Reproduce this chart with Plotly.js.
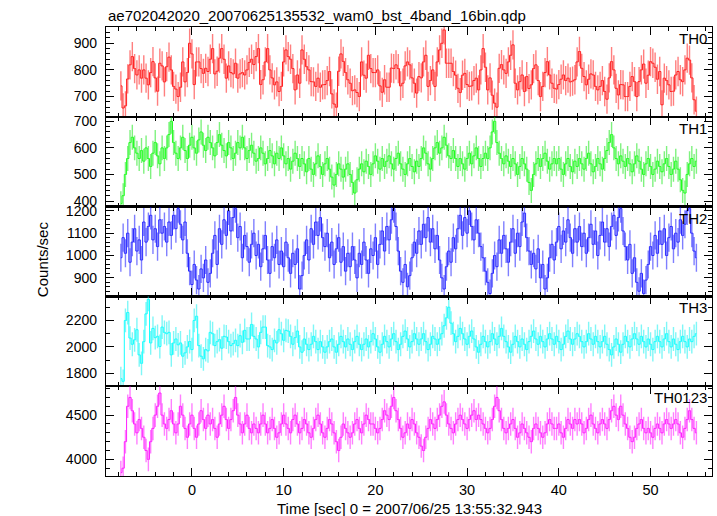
<!DOCTYPE html>
<html><head><meta charset="utf-8">
<script src="https://cdn.plot.ly/plotly-3.0.1.min.js"></script>
<style>html,body{margin:0;padding:0;background:#fff}</style>
</head><body><div id="chart" style="width:717px;height:516px"></div>
<script>
// Time bins [sec] (bin centres, 0.25 s bins)
const time = [-7.75,-7.5,-7.25,-7,-6.75,-6.5,-6.25,-6,-5.75,-5.5,-5.25,-5,-4.75,-4.5,-4.25,-4,-3.75,-3.5,-3.25,-3,-2.75,-2.5,-2.25,-2,-1.75,-1.5,-1.25,-1,-0.75,-0.5,-0.25,0,
0.25,0.5,0.75,1,1.25,1.5,1.75,2,2.25,2.5,2.75,3,3.25,3.5,3.75,4,4.25,4.5,4.75,5,5.25,5.5,5.75,6,6.25,6.5,6.75,7,7.25,7.5,7.75,8,8.25,8.5,8.75,9,9.25,9.5,9.75,10,
10.25,10.5,10.75,11,11.25,11.5,11.75,12,12.25,12.5,12.75,13,13.25,13.5,13.75,14,14.25,14.5,14.75,15,15.25,15.5,15.75,16,16.25,16.5,16.75,17,17.25,17.5,17.75,18,18.25,18.5,18.75,19,19.25,19.5,19.75,20,
20.25,20.5,20.75,21,21.25,21.5,21.75,22,22.25,22.5,22.75,23,23.25,23.5,23.75,24,24.25,24.5,24.75,25,25.25,25.5,25.75,26,26.25,26.5,26.75,27,27.25,27.5,27.75,28,28.25,28.5,28.75,29,29.25,29.5,29.75,30,
30.25,30.5,30.75,31,31.25,31.5,31.75,32,32.25,32.5,32.75,33,33.25,33.5,33.75,34,34.25,34.5,34.75,35,35.25,35.5,35.75,36,36.25,36.5,36.75,37,37.25,37.5,37.75,38,38.25,38.5,38.75,39,39.25,39.5,39.75,40,
40.25,40.5,40.75,41,41.25,41.5,41.75,42,42.25,42.5,42.75,43,43.25,43.5,43.75,44,44.25,44.5,44.75,45,45.25,45.5,45.75,46,46.25,46.5,46.75,47,47.25,47.5,47.75,48,48.25,48.5,48.75,49,49.25,49.5,49.75,50,
50.25,50.5,50.75,51,51.25,51.5,51.75,52,52.25,52.5,52.75,53,53.25,53.5,53.75,54,54.25,54.5,54.75,55];

// Count rates [counts/sec]
const th0 = [740,657,665,766,819,850,805,781,800,769,
800,769,744,790,831,770,720,825,815,755,
812,848,800,738,728,700,735,830,755,790,
900,860,745,830,830,805,787,806,794,840,
880,785,795,844,880,840,769,815,790,785,
825,769,785,790,781,800,828,840,820,850,
880,745,763,830,880,800,770,744,755,719,
738,830,875,850,840,805,725,781,750,875,
840,812,800,756,755,738,769,735,744,745,
760,794,710,672,660,795,860,832,790,763,
750,722,725,715,700,830,780,769,855,805,
790,790,800,740,716,763,735,735,807,805,
819,805,740,750,815,830,819,770,750,713,
775,770,830,855,738,760,800,738,830,875,
900,950,825,825,825,794,780,731,715,780,
787,745,738,740,760,769,725,800,880,810,
725,770,705,675,660,806,820,800,787,830,
855,894,750,725,756,781,719,775,730,744,
805,819,760,700,738,790,831,781,750,731,
728,745,765,781,760,769,755,758,763,830,
869,806,775,744,765,785,781,738,725,738,
760,719,690,770,831,800,731,706,745,744,
700,700,738,775,756,700,756,800,822,750,
780,831,825,810,765,794,669,769,760,744,
719,720,781,794,763,756,800,844,837,770,688,645];

const th1 = [390,420,500,560,620,640,600,580,560,590,
550,600,560,530,580,620,570,540,600,560,
600,650,700,620,580,560,600,640,590,560,
610,640,600,580,630,660,610,590,640,620,
600,570,620,650,610,590,570,620,600,560,
580,620,600,640,600,560,590,610,580,550,
560,600,580,540,560,590,570,540,580,560,
600,570,540,560,520,550,580,560,530,560,
540,510,560,520,500,540,570,530,500,540,
560,520,490,460,500,540,520,490,520,540,
500,470,430,480,520,540,510,550,530,500,
540,570,550,520,560,530,550,570,540,520,
560,580,540,520,500,540,560,530,510,550,
530,560,600,580,540,520,560,600,620,580,
600,640,610,570,560,590,560,530,560,540,
520,560,580,540,570,600,560,530,560,580,
560,600,660,700,620,580,560,540,570,550,
530,560,540,500,530,560,540,520,470,440,
500,540,560,530,560,580,550,520,540,560,
540,560,520,500,540,560,530,510,550,530,
560,540,520,560,580,540,510,530,560,540,
520,560,590,620,650,600,560,540,570,550,
530,560,540,510,540,570,550,520,500,540,
560,530,500,520,550,530,510,540,560,530,
500,520,550,520,480,440,430,500,540,560,530,550];

const th2 = [990,1080,1010,1100,970,1060,1120,1020,1070,980,
1150,1060,1130,1180,1070,1120,1040,1160,1100,1130,
1060,1150,1090,1180,1120,1210,1140,1070,1150,1010,
930,870,960,890,850,940,900,980,880,920,
1010,1090,960,1120,1050,1160,1090,1200,1110,1170,
1210,1080,1130,990,1090,1040,970,1050,1100,1000,
1050,950,1030,1090,980,920,1040,990,1070,960,
1020,950,1060,990,920,1010,960,1030,850,910,
1000,1070,980,1120,1050,1150,1090,1170,1080,1040,
1100,990,1060,960,1030,1080,970,1040,930,1010,
950,1040,980,900,1010,960,1060,980,920,1030,
1000,1080,960,1050,1110,1020,1130,1070,1160,1210,
1130,1020,930,880,960,860,910,990,1060,1010,
1110,1050,1140,1080,1170,1060,1120,1030,1090,980,
900,850,950,1020,970,1080,1030,1120,1180,1090,
1170,1100,1200,1130,1070,1160,1100,1040,990,930,
880,830,920,1000,950,1070,1010,1090,1030,970,
1060,1120,1010,1100,1040,1150,1190,1080,1020,960,
1010,940,1030,900,960,850,900,990,1050,980,
1060,1130,1030,1110,1060,1160,1080,1010,1120,1060,
1130,1040,1100,1010,1080,1140,1050,1110,1000,1090,
1150,1060,1120,1040,1130,1180,1090,1170,1210,1110,
1040,980,1050,920,990,880,840,920,830,890,
960,1040,1000,1090,1010,1110,1050,1120,1000,1080,
1130,1030,1100,1060,1160,1090,1140,1200,1210,1100,1020,990];

const th3 = [1760,1740,2200,2260,2067,2020,2054,2130,1940,1876,
2040,2250,2359,2030,2140,2070,2080,2003,2150,2110,
2100,2110,1940,2030,2060,2016,2030,1930,1955,2000,
2041,1980,2200,2232,2010,1930,1910,1980,1970,2110,
2100,2010,2040,2055,1990,2080,2075,2040,2010,2025,
2050,2010,2085,2035,2125,2060,2060,2170,2080,2060,
2000,2110,2150,2150,2010,2000,1980,2050,2030,2130,
2100,2050,2125,2120,2080,2020,2070,2120,2000,1960,
2060,2020,1980,2020,2080,2040,1980,2040,2000,1960,
2000,2040,2060,2000,1960,2020,2080,2040,2000,2060,
2020,1980,2040,2080,2020,1980,2020,2060,2000,2040,
2100,2060,2000,1960,2020,2080,2040,2000,2060,2100,
2040,1980,2020,2080,2120,2060,2000,2040,2100,2060,
2020,2060,2100,2040,1980,2020,2080,2060,2020,2060,
2100,2160,2220,2300,2180,2100,2040,2080,2140,2100,
2060,2020,2080,2120,2060,2000,1960,2020,2080,2040,
2000,2040,2100,2060,2020,2080,2140,2080,2040,2000,
1960,2020,2080,2040,2000,2060,2020,1980,2040,2080,
2120,2060,2020,2080,2040,2000,2060,2100,2060,2020,
2080,2040,1980,2020,2080,2120,2060,2020,2060,2100,
2080,2040,2000,2040,2100,2060,2020,2080,2040,2000,
2040,2080,2020,1980,1940,2000,2060,2020,1960,2020,
2080,2040,2000,2060,2100,2060,2020,2080,2040,2000,
2060,2020,1980,2040,2080,2040,2000,2060,2100,2040,
2000,2060,2020,1980,2040,2080,2040,2000,2060,2040,2080,2100];

const th0123 = [3850,3900,4200,4600,4700,4550,4400,4300,4450,4350,
4250,4100,4000,4200,4350,4500,4600,4750,4500,4400,
4350,4450,4550,4400,4300,4400,4600,4500,4350,4250,
4400,4500,4350,4250,4400,4550,4450,4350,4500,4400,
4450,4350,4250,4400,4500,4600,4450,4350,4450,4550,
4700,4500,4400,4300,4400,4500,4350,4300,4400,4350,
4300,4400,4500,4400,4300,4350,4450,4350,4250,4300,
4400,4500,4400,4350,4300,4450,4500,4400,4300,4350,
4450,4400,4300,4250,4350,4450,4500,4400,4300,4250,
4350,4450,4400,4300,4200,4100,4250,4400,4350,4300,
4250,4300,4400,4450,4350,4300,4400,4500,4450,4400,
4400,4350,4300,4350,4450,4550,4500,4450,4600,4700,
4550,4450,4350,4250,4300,4400,4350,4450,4400,4300,
4250,4150,4100,4250,4350,4450,4400,4350,4450,4500,
4600,4650,4500,4400,4350,4300,4400,4450,4500,4450,
4400,4350,4450,4500,4550,4450,4500,4450,4400,4350,
4300,4350,4450,4600,4700,4550,4450,4350,4300,4350,
4400,4450,4350,4250,4300,4400,4350,4300,4250,4200,
4350,4400,4350,4300,4250,4300,4400,4450,4400,4350,
4350,4400,4300,4250,4350,4450,4400,4350,4450,4400,
4450,4400,4300,4350,4450,4500,4400,4350,4300,4400,
4450,4400,4350,4450,4550,4600,4500,4450,4600,4500,
4400,4350,4250,4200,4250,4350,4400,4450,4350,4300,
4350,4300,4250,4350,4400,4350,4300,4400,4450,4400,
4350,4400,4450,4400,4300,4250,4350,4450,4550,4450,4350,4300];

// Typical 1-sigma error per band [counts/sec]
const bandErrors = [55, 47, 63, 90, 133];
const bandNames = ['TH0', 'TH1', 'TH2', 'TH3', 'TH0123'];
const bandSeries = [th0, th1, th2, th3, th0123];

// Style / layout settings
const lineColors = ['rgb(255,30,30)', 'rgb(30,255,30)', 'rgb(40,40,255)', 'rgb(20,255,255)', 'rgb(255,30,255)'];
const errColors = ['rgba(255,0,0,0.5)', 'rgba(0,230,0,0.5)', 'rgba(0,0,255,0.5)', 'rgba(0,240,240,0.5)', 'rgba(255,0,255,0.5)'];
const yRanges = [[624, 961], [379, 717], [817, 1219], [1703, 2382], [3812, 4827]];
const yDticks = [100, 100, 100, 200, 500];
const yMinor = [20, 20, 20, 100, 100];
const xRange = [-9.37, 56.7];
const FONT = 'Liberation Sans, Arial, Helvetica, sans-serif';

const n = bandSeries.length;
const traces = [];
const layout = {
  width: 717, height: 516,
  margin: {l: 106, r: 5, t: 27, b: 40, pad: 0},
  paper_bgcolor: '#fff', plot_bgcolor: '#fff',
  showlegend: false,
  font: {family: FONT, size: 14.5, color: '#000'},
  annotations: [],
};

for (let k = 0; k < n; k++) {
  const sfx = k === 0 ? '' : String(k + 1);
  traces.push({
    type: 'scatter', mode: 'lines',
    x: time, y: bandSeries[k],
    xaxis: 'x' + sfx, yaxis: 'y' + sfx,
    line: {color: lineColors[k], width: 1, shape: 'hvh'},
    error_y: {type: 'constant', value: bandErrors[k], color: errColors[k], thickness: 1.4, width: 0},
    hoverinfo: 'skip'
  });
  const top = 1 - k / n, bot = 1 - (k + 1) / n;
  layout['xaxis' + sfx] = {
    domain: [0, 1], anchor: 'y' + sfx, range: xRange,
    showgrid: false, zeroline: false,
    showline: true, linecolor: '#000', linewidth: 1.2, mirror: 'ticks',
    ticks: 'inside', ticklen: 8, tickwidth: 1, tickcolor: '#000',
    dtick: 10, tick0: 0,
    minor: {ticks: 'inside', ticklen: 4, dtick: 2, tick0: 0, tickcolor: '#000', tickwidth: 1},
    showticklabels: k === n - 1,
    tickfont: {family: FONT, size: 14.5, color: '#000'},
    fixedrange: true
  };
  if (k > 0) layout['xaxis' + sfx].matches = 'x';
  layout['yaxis' + sfx] = {
    domain: [bot, top], anchor: 'x' + sfx, range: yRanges[k],
    showgrid: false, zeroline: false,
    showline: true, linecolor: '#000', linewidth: 1.2, mirror: 'ticks',
    ticks: 'inside', ticklen: 8, tickwidth: 1, tickcolor: '#000',
    dtick: yDticks[k], tick0: 0,
    minor: {ticks: 'inside', ticklen: 4, dtick: yMinor[k], tick0: 0, tickcolor: '#000', tickwidth: 1},
    tickfont: {family: FONT, size: 14, color: '#000'},
    ticklabelstandoff: 5,
    fixedrange: true
  };
  layout.annotations.push({
    xref: 'paper', yref: 'paper', x: 1, y: top, xanchor: 'right', yanchor: 'top',
    xshift: -3, yshift: -1, text: bandNames[k], showarrow: false,
    font: {family: FONT, size: 15, color: '#000'}
  });
}

layout.annotations.push({
  xref: 'paper', yref: 'paper', x: 0, y: 1, xanchor: 'left', yanchor: 'bottom',
  xshift: 0, yshift: 1, showarrow: false,
  text: 'ae702042020_20070625135532_wam0_bst_4band_16bin.qdp',
  font: {family: FONT, size: 15, color: '#000'}
});
layout.annotations.push({
  xref: 'paper', yref: 'paper', x: 0, y: 0.483, xanchor: 'center', yanchor: 'middle',
  xshift: -64, textangle: -90, showarrow: false, text: 'Counts/sec',
  font: {family: FONT, size: 15, color: '#000'}
});
layout.annotations.push({
  xref: 'paper', yref: 'paper', x: 0.5, y: 0, xanchor: 'center', yanchor: 'top',
  yshift: -22, showarrow: false, text: 'Time [sec] 0 = 2007/06/25 13:55:32.943',
  font: {family: FONT, size: 15, color: '#000'}
});

Plotly.newPlot('chart', traces, layout, {staticPlot: true, displayModeBar: false});
</script></body></html>
